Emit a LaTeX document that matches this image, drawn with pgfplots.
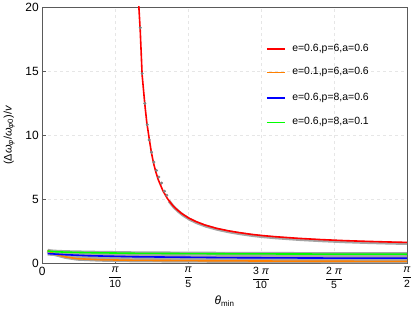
\documentclass[border=0pt]{standalone}
\usepackage{amsmath}
\usepackage{pgfplots}
\pgfplotsset{compat=1.18}
\usepackage{fontspec}
\setmainfont{Liberation Sans}
\usetikzlibrary{calc}
\definecolor{myred}{RGB}{255,0,0}
\definecolor{myorange}{RGB}{255,128,0}
\definecolor{myblue}{RGB}{0,0,255}
\definecolor{mygreen}{RGB}{0,255,0}
\definecolor{framegray}{RGB}{90,90,90}
\definecolor{gridgray}{RGB}{230,230,230}
\definecolor{shadowgray}{RGB}{165,165,165}
\definecolor{dotgray}{RGB}{130,130,130}
\newcommand{\fr}[2]{{\fontsize{10.5}{12}\selectfont$\dfrac{\mbox{#1}}{\mbox{#2}}$}}
\begin{document}
\begin{tikzpicture}
\begin{axis}[
  scale only axis,
  width=364.7bp, height=256.3bp,
  xmin=0, xmax=1.5708, ymin=0, ymax=20,
  axis line style={framegray, line width=0.8bp},
  xtick={0,0.314159,0.628319,0.942478,1.256637,1.570796},
  xticklabels={{\fontsize{12}{14}\selectfont 0},
    \fr{\textit{π}}{10}, \fr{\textit{π}}{5}, \fr{3 \textit{π}}{10}, \fr{2 \textit{π}}{5}, \fr{\textit{π}}{2}},
  ytick={0,5,10,15,20},
  /pgf/number format/assume math mode=true,
  yticklabel style={font=\fontsize{12}{14}\selectfont},
  tick style={framegray, line width=0.8bp},
  xtick pos=bottom, ytick pos=left,
  major tick length=4bp,
  tick align=inside,
  grid=major,
  major grid style={gridgray, dashed, line width=0.6bp},
  xlabel={\fontsize{12}{14}\selectfont\textit{θ}\textsubscript{min}},
  ylabel={\fontsize{11}{13}\selectfont(Δ\textit{ω}\textsubscript{\textit{φ}}/\textit{ω}\textsubscript{\textit{φ}0})/\textit{v}},
  xlabel style={at={(axis description cs:0.5,0)}, anchor=north, yshift=-29bp},
  ylabel style={at={(axis description cs:0,0.5)}, anchor=south, yshift=24bp},
  clip=true,
]
% shadows
\addplot[shadowgray, line width=4bp, forget plot] coordinates {
(0.023,0.96)(0.05,0.91)(0.1,0.87)(0.2,0.83)(0.4,0.78)(0.8,0.74)(1.2,0.72)(1.5708,0.71)};
\addplot[shadowgray, line width=4bp, forget plot] coordinates {
(0.023,0.76)(0.1,0.67)(0.2,0.59)(0.4,0.51)(0.8,0.44)(1.2,0.41)(1.5708,0.40)};
\addplot[shadowgray, line width=4bp, forget plot] coordinates {
(0.023,1.0)(0.05,0.74)(0.1,0.5)(0.15,0.36)(0.25,0.28)(0.4,0.23)(0.8,0.19)(1.2,0.16)(1.5708,0.15)};
\addplot[shadowgray, line width=3bp, forget plot] coordinates {
(0.546,4.85)(0.566,4.40)(0.586,4.05)(0.606,3.76)(0.636,3.42)(0.666,3.16)(0.706,2.89)(0.756,2.64)(0.806,2.45)(0.856,2.30)(0.906,2.17)(0.956,2.07)(1.006,1.99)(1.106,1.86)(1.206,1.76)(1.306,1.68)(1.406,1.62)(1.506,1.57)(1.5708,1.55)};
\addplot[dotgray, only marks, mark=*, mark size=1.3bp, forget plot] coordinates {
(0.4217,18.38)(0.430,14.81)(0.4416,12.48)(0.4518,10.82)(0.4603,9.63)(0.4704,8.67)(0.4805,7.9)(0.492,7.25)(0.502,6.73)(0.5136,6.26)(0.5265,5.62)(0.5366,5.31)};
% curves
\addplot[draw=myred, line width=1.6bp, mark=none, forget plot] coordinates {
(0.414,20.6)(0.4217,18.2)(0.430,14.7)(0.4416,12.4)(0.45,11.0)(0.46,9.78)(0.47,8.63)(0.48,7.75)(0.49,7.06)(0.50,6.50)(0.52,5.64)(0.54,5.02)(0.56,4.55)(0.58,4.19)(0.60,3.89)(0.63,3.54)(0.66,3.27)(0.70,2.99)(0.75,2.73)(0.80,2.54)(0.85,2.39)(0.90,2.26)(0.95,2.16)(1.00,2.08)(1.10,1.95)(1.20,1.85)(1.30,1.77)(1.40,1.71)(1.50,1.66)(1.5708,1.63)};
\addplot[draw=myorange, line width=1.6bp, mark=none, forget plot] coordinates {
(0.023,1.0)(0.05,0.74)(0.1,0.5)(0.15,0.36)(0.25,0.28)(0.4,0.23)(0.8,0.19)(1.2,0.16)(1.5708,0.15)};
\addplot[draw=myblue, line width=1.6bp, mark=none, forget plot] coordinates {
(0.023,0.76)(0.1,0.67)(0.2,0.59)(0.4,0.51)(0.8,0.44)(1.2,0.41)(1.5708,0.40)};
\addplot[draw=mygreen, line width=1.6bp, mark=none, forget plot] coordinates {
(0.023,0.96)(0.05,0.91)(0.1,0.87)(0.2,0.83)(0.4,0.78)(0.8,0.74)(1.2,0.72)(1.5708,0.71)};
% legend
\draw[myred, line width=1.5bp] (rel axis cs:0.616,0.836) -- (rel axis cs:0.6655,0.836);
\draw[myorange, line width=1.5bp] (rel axis cs:0.616,0.745) -- (rel axis cs:0.6655,0.745);
\draw[myblue, line width=1.5bp] (rel axis cs:0.616,0.644) -- (rel axis cs:0.6655,0.644);
\draw[mygreen, line width=1.5bp] (rel axis cs:0.616,0.550) -- (rel axis cs:0.6655,0.550);
\node[anchor=west, inner sep=0pt, font=\fontsize{10.5}{12}\selectfont] at (rel axis cs:0.685,0.836) {e=0.6,p=6,a=0.6};
\node[anchor=west, inner sep=0pt, font=\fontsize{10.5}{12}\selectfont] at (rel axis cs:0.685,0.745) {e=0.1,p=6,a=0.6};
\node[anchor=west, inner sep=0pt, font=\fontsize{10.5}{12}\selectfont] at (rel axis cs:0.685,0.644) {e=0.6,p=8,a=0.6};
\node[anchor=west, inner sep=0pt, font=\fontsize{10.5}{12}\selectfont] at (rel axis cs:0.685,0.550) {e=0.6,p=8,a=0.1};
\end{axis}
\pgfresetboundingbox
\useasboundingbox ($(current axis.south west)+(-42.3bp,-50.7bp)$) rectangle ($(current axis.north east)+(8bp,7bp)$);
\end{tikzpicture}
\end{document}
